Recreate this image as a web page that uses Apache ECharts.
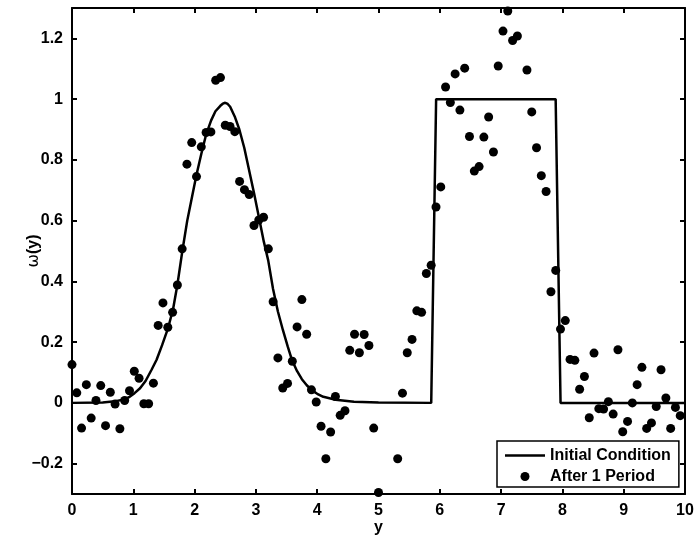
<!DOCTYPE html>
<html>
<head>
<meta charset="utf-8">
<script src="https://cdn.jsdelivr.net/npm/echarts@6/dist/echarts.min.js"></script>
<style>
html,body{margin:0;padding:0;background:#fff;}
#chart{width:694px;height:536px;}
</style>
</head>
<body>
<div id="chart"></div>
<script>
// Initial condition curve
const curveX = [0, 0.5, 0.7, 0.86, 0.94, 1.02, 1.11, 1.2, 1.3, 1.38, 1.47, 1.57, 1.65, 1.72, 1.8, 1.88, 1.96, 2.03, 2.11, 2.19, 2.27, 2.34, 2.42, 2.46, 2.5, 2.54, 2.58, 2.66, 2.73, 2.81, 2.89, 2.97, 3.05, 3.13, 3.2, 3.28, 3.36, 3.44, 3.52, 3.59, 3.67, 3.75, 3.83, 3.91, 4.0, 4.1, 4.3, 4.6, 5.0, 5.86, 5.94, 7.89, 7.97, 10];
const curveY = [0, 0.001, 0.005, 0.012, 0.02, 0.032, 0.048, 0.072, 0.11, 0.142, 0.19, 0.248, 0.31, 0.39, 0.5, 0.6, 0.68, 0.75, 0.82, 0.885, 0.93, 0.96, 0.978, 0.985, 0.988, 0.984, 0.975, 0.94, 0.9, 0.84, 0.765, 0.69, 0.61, 0.53, 0.47, 0.375, 0.30, 0.24, 0.185, 0.14, 0.105, 0.078, 0.058, 0.042, 0.03, 0.02, 0.01, 0.004, 0.001, 0, 1, 1, 0, 0];

// After 1 period (scatter points)
const pointX = [0, 0.078, 0.156, 0.234, 0.313, 0.391, 0.469, 0.547, 0.625, 0.703, 0.781, 0.859, 0.938, 1.016, 1.094, 1.172, 1.25, 1.328, 1.406, 1.484, 1.563, 1.641, 1.719, 1.797, 1.875, 1.953, 2.031, 2.109, 2.188, 2.266, 2.344, 2.422, 2.5, 2.578, 2.656, 2.734, 2.813, 2.891, 2.969, 3.047, 3.125, 3.203, 3.281, 3.359, 3.438, 3.516, 3.594, 3.672, 3.75, 3.828, 3.906, 3.984, 4.063, 4.141, 4.219, 4.297, 4.375, 4.453, 4.531, 4.609, 4.688, 4.766, 4.844, 4.922, 5.0,
  5.313, 5.391, 5.469, 5.547, 5.625, 5.703, 5.781, 5.859, 5.938, 6.016, 6.094, 6.172, 6.25, 6.328, 6.406, 6.484, 6.563, 6.641, 6.719, 6.797, 6.875, 6.953, 7.031, 7.109, 7.188, 7.266,
  7.422, 7.5, 7.578, 7.656, 7.734, 7.813, 7.891, 7.969, 8.047, 8.125, 8.203, 8.281, 8.359, 8.438, 8.516, 8.594, 8.672, 8.75, 8.828, 8.906, 8.984, 9.063, 9.141, 9.219, 9.297, 9.375, 9.453, 9.531, 9.609, 9.688, 9.766, 9.844, 9.922];
const pointY = [0.126, 0.033, -0.083, 0.06, -0.05, 0.008, 0.057, -0.075, 0.035, -0.004, -0.085, 0.008, 0.04, 0.104, 0.081, -0.003, -0.003, 0.065, 0.255, 0.329, 0.249, 0.298, 0.388, 0.507, 0.786, 0.857, 0.745, 0.843, 0.89, 0.892, 1.062, 1.071, 0.914, 0.91, 0.893, 0.729, 0.702, 0.686, 0.584, 0.602, 0.611, 0.507, 0.333, 0.148, 0.049, 0.064, 0.137, 0.25, 0.34, 0.226, 0.043, 0.003, -0.077, -0.184, -0.096, 0.021, -0.041, -0.026, 0.173, 0.226, 0.165, 0.225, 0.189, -0.083, -0.295,
  -0.184, 0.032, 0.165, 0.209, 0.303, 0.298, 0.426, 0.453, 0.645, 0.711, 1.04, 0.989, 1.083, 0.964, 1.102, 0.877, 0.763, 0.778, 0.875, 0.941, 0.826, 1.109, 1.224, 1.29, 1.193, 1.208,
  1.096, 0.958, 0.84, 0.748, 0.696, 0.366, 0.436, 0.243, 0.271, 0.143, 0.14, 0.045, 0.087, -0.049, 0.164, -0.019, -0.02, 0.004, -0.037, 0.175, -0.095, -0.061, 0.0, 0.06, 0.117, -0.084, -0.066, -0.012, 0.109, 0.016, -0.084, -0.015, -0.042];

const yTicks = [-0.2, 0, 0.2, 0.4, 0.6, 0.8, 1, 1.2];
const seriesNames = ['Initial Condition', 'After 1 Period'];

const FONT = "'Liberation Sans', Arial, Helvetica, sans-serif";
const labelStyle = {color: '#000', fontWeight: 'bold', fontSize: 16, fontFamily: FONT};
const lineStyleAxis = {color: '#000', width: 2};
const fmtY = v => (v < 0 ? '\u2212' + String(Math.abs(v)) : String(v));

const chart = echarts.init(document.getElementById('chart'), null, {renderer: 'canvas'});
chart.setOption({
  animation: false,
  backgroundColor: '#fff',
  grid: {left: 72, right: 9, top: 8, bottom: 42, containLabel: false, outerBoundsMode: 'none'},
  xAxis: [
    {
      type: 'value', position: 'bottom', min: 0, max: 10, interval: 1,
      name: 'y', nameLocation: 'middle', nameGap: 26, nameMoveOverlap: false,
      nameTextStyle: labelStyle,
      axisLine: {show: true, onZero: false, lineStyle: lineStyleAxis},
      axisTick: {show: true, inside: true, length: 5, lineStyle: {color: '#000', width: 2}},
      axisLabel: Object.assign({margin: 9}, labelStyle),
      splitLine: {show: false}
    },
    {
      type: 'value', position: 'top', min: 0, max: 10, interval: 1,
      axisLine: {show: true, onZero: false, lineStyle: lineStyleAxis},
      axisTick: {show: true, inside: true, length: 5, lineStyle: {color: '#000', width: 2}},
      axisLabel: {show: false},
      splitLine: {show: false}
    }
  ],
  yAxis: [
    {
      type: 'value', position: 'left', min: -0.3, max: 1.3,
      name: '{w|\u03c9}{b|(y)}', nameLocation: 'middle', nameGap: 30, nameRotate: 90, nameMoveOverlap: false,
      nameTextStyle: {
        rich: {
          w: {fontSize: 16, fontFamily: "'DejaVu Sans', sans-serif", color: '#000', fontWeight: 'normal'},
          b: {fontSize: 16, fontFamily: FONT, color: '#000', fontWeight: 'bold'}
        }
      },
      axisLine: {show: true, onZero: false, lineStyle: lineStyleAxis},
      axisTick: {show: true, inside: true, length: 5, customValues: yTicks, lineStyle: {color: '#000', width: 2}},
      axisLabel: Object.assign({margin: 9, customValues: yTicks, formatter: fmtY}, labelStyle),
      splitLine: {show: false}
    },
    {
      type: 'value', position: 'right', min: -0.3, max: 1.3,
      axisLine: {show: true, onZero: false, lineStyle: lineStyleAxis},
      axisTick: {show: true, inside: true, length: 5, customValues: yTicks, lineStyle: {color: '#000', width: 2}},
      axisLabel: {show: false},
      splitLine: {show: false}
    }
  ],
  legend: {
    left: 497, top: 441,
    orient: 'vertical',
    backgroundColor: '#fff',
    borderColor: '#000', borderWidth: 1.5, borderRadius: 0,
    padding: [6, 8, 2, 8],
    itemGap: 4,
    itemWidth: 40, itemHeight: 9,
    textStyle: {color: '#000', fontWeight: 'bold', fontSize: 16, fontFamily: FONT, lineHeight: 17},
    data: [
      {name: seriesNames[0], icon: 'path://M0,0L40,0L40,2.5L0,2.5Z', itemStyle: {color: '#000', opacity: 1}},
      {name: seriesNames[1], icon: 'circle', itemStyle: {color: '#000', opacity: 1}}
    ]
  },
  series: [
    {
      name: seriesNames[0],
      type: 'line',
      xAxisIndex: 0, yAxisIndex: 0,
      data: curveX.map((x, i) => [x, curveY[i]]),
      symbol: 'none',
      showSymbol: false,
      color: '#000',
      lineStyle: {color: '#000', width: 2.5},
      z: 2
    },
    {
      name: seriesNames[1],
      type: 'scatter',
      xAxisIndex: 0, yAxisIndex: 0,
      data: pointX.map((x, i) => [x, pointY[i]]),
      symbol: 'circle',
      symbolSize: 9,
      color: '#000',
      itemStyle: {color: '#000', opacity: 1},
      z: 3
    }
  ]
});
</script>
</body>
</html>
